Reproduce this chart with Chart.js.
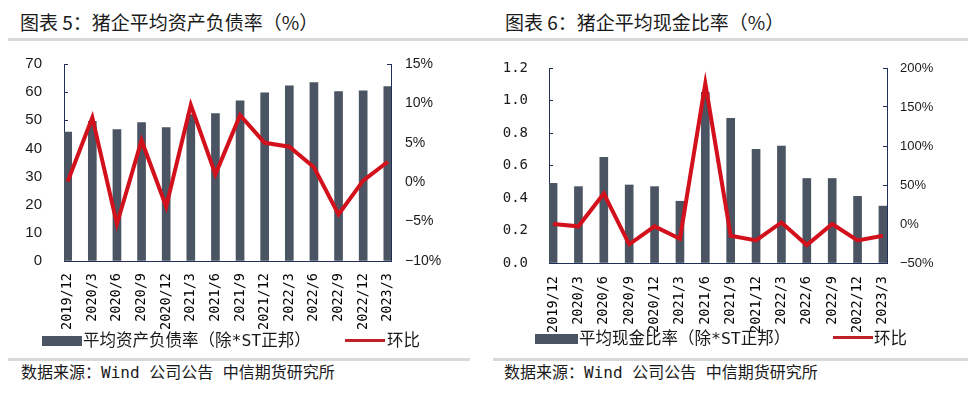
<!DOCTYPE html>
<html>
<head>
<meta charset="utf-8">
<script src="https://cdn.jsdelivr.net/npm/chart.js@4.4.0/dist/chart.umd.min.js"></script>
<style>
  body { margin: 0; background: #fff; }
  #page { position: relative; width: 975px; height: 394px; overflow: hidden; font-family: "Noto Sans CJK SC", sans-serif; color: #1a1a1a; }
  .title { position: absolute; top: 9px; font-size: 19px; line-height: 26px; white-space: nowrap; }
  .rule { position: absolute; height: 3px; background: #d9d9d9; }
  .source { position: absolute; top: 363px; font-size: 16px; line-height: 20px; white-space: nowrap; font-family: "DejaVu Sans Mono", "Noto Sans CJK SC", monospace; }
  .leg { position: absolute; font-size: 16.5px; line-height: 20px; white-space: nowrap; font-family: "DejaVu Sans Mono", "Noto Sans CJK SC", monospace; }
  .swatch { position: absolute; }
  canvas { position: absolute; top: 50px; }
</style>
</head>
<body>
<div id="page">
  <div class="title" style="left:20px">图表 5：猪企平均资产负债率（%）</div>
  <div class="title" style="left:505px">图表 6：猪企平均现金比率（%）</div>
  <div class="rule" style="left:8px; width:960px; top:38px"></div>

  <canvas id="debtChart" width="490" height="285" style="left:0"></canvas>
  <canvas id="cashChart" width="485" height="285" style="left:490px"></canvas>

  <div class="swatch" style="left:42px; top:336px; width:40px; height:10px; background:#4a5462"></div>
  <div class="leg" style="left:83px; top:331px" id="legDebt"></div>
  <div class="swatch" style="left:345px; top:339px; width:40px; height:3px; background:#c0202a"></div>
  <div class="leg" style="left:387px; top:331px" id="legDebtQoq"></div>

  <div class="swatch" style="left:535px; top:334px; width:43px; height:10px; background:#4a5462"></div>
  <div class="leg" style="left:579px; top:329px" id="legCash"></div>
  <div class="swatch" style="left:833px; top:336px; width:40px; height:3px; background:#c0202a"></div>
  <div class="leg" style="left:874px; top:329px" id="legCashQoq"></div>

  <div class="rule" style="left:8px; width:462px; top:358px"></div>
  <div class="rule" style="left:493px; width:475px; top:358px"></div>
  <div class="source" style="left:21px">数据来源：Wind 公司公告 中信期货研究所</div>
  <div class="source" style="left:504px">数据来源：Wind 公司公告 中信期货研究所</div>
</div>

<script>
// 数据
const categories = ['2019/12', '2020/3', '2020/6', '2020/9', '2020/12', '2021/3', '2021/6',
    '2021/9', '2021/12', '2022/3', '2022/6', '2022/9', '2022/12', '2023/3'];

// 图表5 平均资产负债率 + 环比(%)
const debtRatio = [45.8, 49.6, 46.7, 49.2, 47.4, 52.0, 52.4, 56.9, 59.8, 62.2, 63.4, 60.2, 60.5, 62.0];
const debtQoq = [0.1, 8.2, -5.3, 5.3, -3.1, 9.8, 1.0, 8.5, 5.0, 4.5, 1.9, -4.1, 0.2, 2.6];

// 图表6 平均现金比率 + 环比(%)
const cashRatio = [0.49, 0.47, 0.65, 0.48, 0.47, 0.38, 1.05, 0.89, 0.70, 0.72, 0.52, 0.52, 0.41, 0.35];
const cashQoq = [0, -3, 39, -26, -3, -19, 180, -15, -21, 2, -27, 0, -21, -15];

const debtLabel = '平均资产负债率（除*ST正邦）';
const cashLabel = '平均现金比率（除*ST正邦）';
const qoqLabel = '环比';

// 外观
const barColor = '#4a5462';
const lineColor = '#d2111c';
const axisColor = '#1f2f55';
const textColor = '#1a1a1a';

const pct = v => (v < 0 ? '−' + (-v) : v) + '%';

function makeConfig(o) {
    return {
        type: 'bar',
        data: {
            datasets: [{
                type: 'line',
                label: qoqLabel,
                data: o.qoq.map((v, i) => ({ x: i, y: v })),
                yAxisID: 'y1',
                borderColor: lineColor,
                backgroundColor: lineColor,
                borderWidth: 4,
                pointRadius: 0,
                tension: 0,
                order: 0,
            }, {
                label: o.label,
                data: o.bars.map((v, i) => ({ x: i, y: v })),
                yAxisID: 'y',
                backgroundColor: barColor,
                barThickness: 8,
                order: 1,
            }]
        },
        options: {
            responsive: false,
            animation: false,
            layout: { padding: { top: o.top, left: 0, right: 0, bottom: 0 } },
            scales: {
                x: {
                    type: 'linear',
                    offset: false,
                    min: o.xmin,
                    max: o.xmax,
                    afterBuildTicks: s => { s.ticks = categories.map((c, i) => ({ value: i })); },
                    afterFit: s => { s.height = o.xh; },
                    ticks: {
                        autoSkip: false,
                        minRotation: 90,
                        maxRotation: 90,
                        padding: 0,
                        color: '#000',
                        font: { family: 'DejaVu Sans Mono', size: 13.5 },
                        callback: v => categories[v],
                    },
                    // 透明刻度线，只用来把标签往下推
                    grid: { display: true, offset: false, drawOnChartArea: false, drawTicks: true, tickLength: o.xpad,
                        color: axisColor, tickColor: 'rgba(0,0,0,0)' },
                    border: { display: true, color: axisColor, width: 1 },
                },
                y: {
                    position: 'left',
                    min: o.ymin, max: o.ymax,
                    afterFit: s => { s.width = o.lw; s.paddingTop = 0; s.paddingBottom = 0; },
                    ticks: {
                        stepSize: o.ystep,
                        padding: o.lpad,
                        color: textColor,
                        font: o.lfont,
                        callback: o.lfmt,
                    },
                    grid: { drawOnChartArea: false, tickLength: -4, color: axisColor },
                    border: { display: true, color: axisColor, width: 1 },
                },
                y1: {
                    position: 'right',
                    min: o.rmin, max: o.rmax,
                    afterFit: s => { s.width = o.rw; s.paddingTop = 0; s.paddingBottom = 0; },
                    ticks: {
                        stepSize: o.rstep,
                        padding: o.rpad,
                        color: textColor,
                        font: { family: 'Liberation Sans', size: o.rsize },
                        callback: pct,
                    },
                    grid: { drawOnChartArea: false, tickLength: -4, color: axisColor },
                    border: { display: true, color: axisColor, width: 1 },
                },
            },
            plugins: {
                legend: { display: false },
                tooltip: { enabled: false },
            }
        }
    };
}

// 图表5
var debtChart = new Chart(document.getElementById('debtChart'), makeConfig({
    bars: debtRatio, qoq: debtQoq, label: debtLabel,
    top: 14, xh: 74, lw: 64, rw: 99, xmin: -0.15, xmax: 13.13, xpad: 12,
    ymin: 0, ymax: 70, ystep: 10, lpad: 26,
    lfont: { family: 'Liberation Sans', size: 15 }, lfmt: v => v,
    rmin: -10, rmax: 15, rstep: 5, rpad: 18, rsize: 14,
}));

// 图表6
var cashChart = new Chart(document.getElementById('cashChart'), makeConfig({
    bars: cashRatio, qoq: cashQoq, label: cashLabel,
    top: 18, xh: 72, lw: 59, rw: 88, xmin: -0.16, xmax: 13.16, xpad: 13,
    ymin: 0, ymax: 1.2, ystep: 0.2, lpad: 25,
    lfont: { family: 'DejaVu Sans Mono', size: 14 }, lfmt: v => v.toFixed(1),
    rmin: -50, rmax: 200, rstep: 50, rpad: 17, rsize: 13,
}));

// 图例文字
document.getElementById('legDebt').textContent = debtLabel;
document.getElementById('legDebtQoq').textContent = qoqLabel;
document.getElementById('legCash').textContent = cashLabel;
document.getElementById('legCashQoq').textContent = qoqLabel;
</script>
</body>
</html>
